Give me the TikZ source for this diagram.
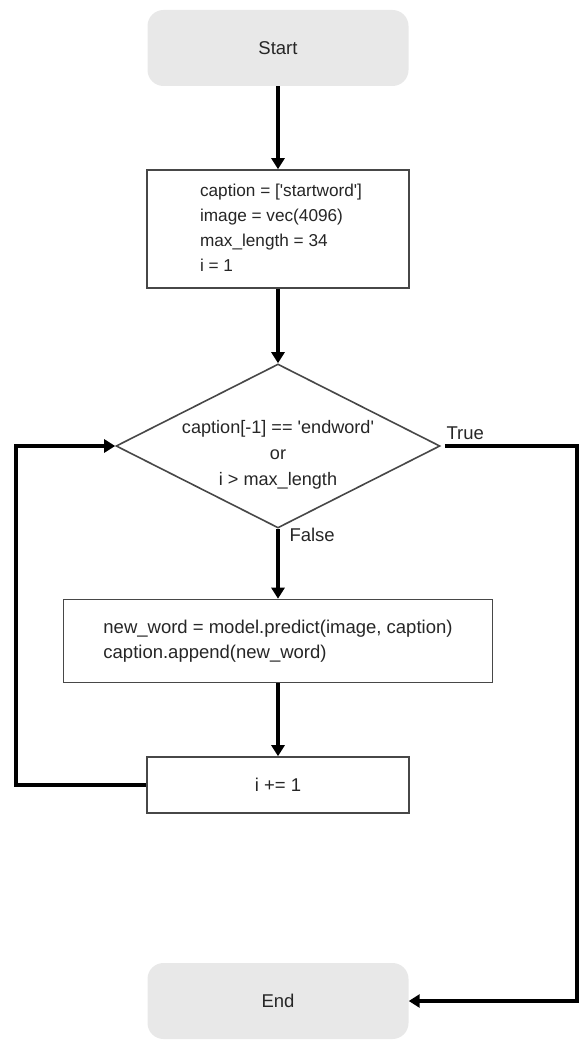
\documentclass[tikz,border=0pt]{standalone}
\usepackage{fontspec}
\newfontfamily\flowfont{Liberation Sans}
\usetikzlibrary{arrows.meta,shapes.geometric}

\begin{document}
\begin{tikzpicture}
[x=1pt,y=-1pt,
 txt/.style={font=\flowfont\fontsize{18.5}{25}\selectfont,text=black!85},
 term/.style={txt,rectangle,rounded corners=16pt,fill=black!9,minimum width=261pt,minimum height=76pt},
 proc/.style={txt,rectangle,draw=black!72,line width=1.6pt,fill=white,align=left},
 cond/.style={txt,diamond,aspect=2,draw=black!72,line width=1.6pt,minimum width=324pt,minimum height=164pt,inner sep=0pt,align=center},
 flow/.style={line width=3.5pt,-{Triangle[length=11pt,width=13pt]}}]
\useasboundingbox (0,0) rectangle (584,1040);

\node[term] (start) at (278,48) {Start};
\node[proc,minimum width=262pt,minimum height=118pt,font=\flowfont\fontsize{17.2}{25}\selectfont] (init) at (278,229)
  {\begin{tabular}{@{\hspace{6pt}}l@{}}caption = ['startword']\\image = vec(4096)\\max\_length = 34\\i = 1\end{tabular}};
\node[cond,font=\flowfont\fontsize{18.1}{26}\selectfont] (test) at (278,446)
  {\raisebox{-13pt}[0pt][0pt]{\begin{tabular}{@{}c@{}}caption[-1] == 'endword'\\or\\i > max\_length\end{tabular}}};
\node[proc,minimum width=429pt,minimum height=83pt] (pred) at (278,641) {new\_word = model.predict(image, caption)\\caption.append(new\_word)};
\node[proc,minimum width=262pt,minimum height=56pt,align=center] (incr) at (278,785) {i += 1};
\node[term] (end) at (278,1001) {End};

\node[txt,anchor=west] (truelbl) at (443,433) {True};
\node[txt,anchor=west] (falselbl) at (286,535) {False};

\coordinate (loop) at (16,785);
\coordinate (exit) at (577,446);

\draw [flow] (start) -- (init);
\draw [flow] (init) -- (test);
\draw [flow] (test) -- (pred);
\draw [flow] (pred) -- (incr);
\draw [flow] (incr.west) -- (loop) |- (test.west);
\draw [flow,shorten <=4pt] (test.east) -- (exit) |- (end.east);
\end{tikzpicture}
\end{document}
